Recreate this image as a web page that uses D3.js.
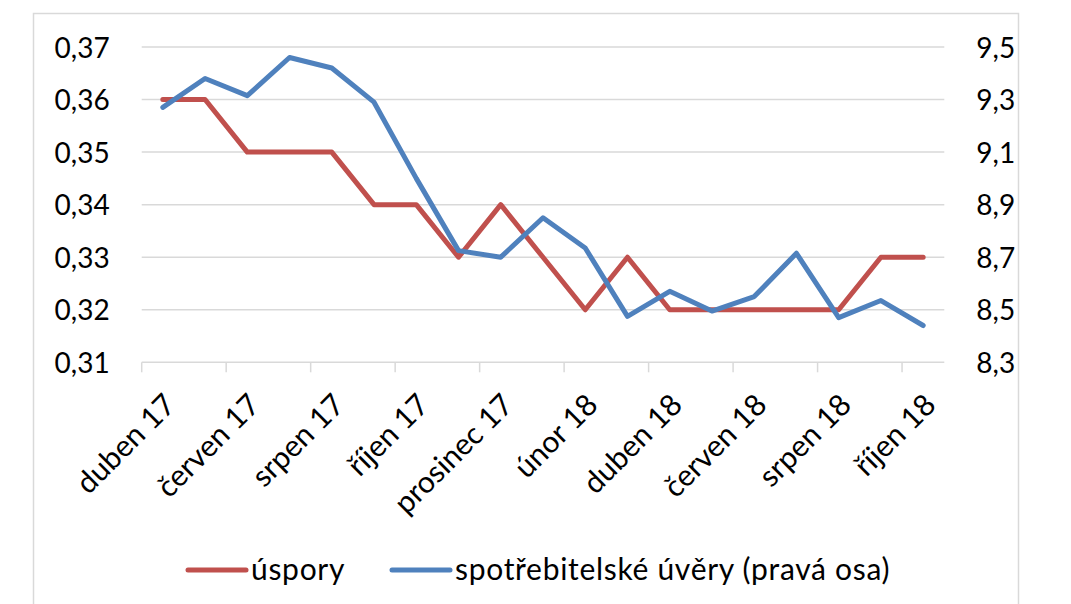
<!DOCTYPE html>
<html>
<head>
<meta charset="utf-8">
<script src="https://cdn.jsdelivr.net/npm/d3@7"></script>
<style>
  body { margin: 0; background: #fff; }
  text { font-family: Lato, "Open Sans", sans-serif; fill: #000; }
</style>
</head>
<body>
<svg id="chart"></svg>
<script>
// categories (monthly, every other one is labelled)
const months = [
  'duben 17', 'květen 17', 'červen 17', 'červenec 17', 'srpen 17', 'září 17',
  'říjen 17', 'listopad 17', 'prosinec 17', 'leden 18', 'únor 18', 'březen 18',
  'duben 18', 'květen 18', 'červen 18', 'červenec 18', 'srpen 18', 'září 18', 'říjen 18'
];
const uspory = [0.36, 0.36, 0.35, 0.35, 0.35, 0.34, 0.34, 0.33, 0.34, 0.33,
  0.32, 0.33, 0.32, 0.32, 0.32, 0.32, 0.32, 0.33, 0.33];
const uvery = [9.27, 9.38, 9.315, 9.46, 9.42, 9.29, 9.0, 8.725, 8.70, 8.85,
  8.735, 8.475, 8.57, 8.495, 8.55, 8.715, 8.47, 8.535, 8.44];
const leftTicks = [0.31, 0.32, 0.33, 0.34, 0.35, 0.36, 0.37];
const rightTicks = [8.3, 8.5, 8.7, 8.9, 9.1, 9.3, 9.5];
const seriesNames = ['úspory', 'spotřebitelské úvěry (pravá osa)'];

const width = 1071;
const height = 604;
const plot = { left: 141.7, right: 944.3, top: 47, bottom: 362.3 };
const red = '#C0504D';
const blue = '#4F81BD';
const grid = '#D9D9D9';

const cz = d3.formatLocale({ decimal: ',', thousands: ' ', grouping: [3], currency: ['', ' Kč'] });

const svg = d3.select('#chart')
  .attr('width', width)
  .attr('height', height);

// chart area border
svg.append('rect')
  .attr('x', 33.5).attr('y', 13.5)
  .attr('width', 985).attr('height', 640)
  .attr('fill', 'none')
  .attr('stroke', grid)
  .attr('stroke-width', 1.5);

const x = d3.scaleBand()
  .domain(months)
  .range([plot.left, plot.right])
  .padding(0);

const yLeft = d3.scaleLinear()
  .domain([0.31, 0.37])
  .range([plot.bottom, plot.top]);

const yRight = d3.scaleLinear()
  .domain([8.3, 9.5])
  .range([plot.bottom, plot.top]);

// gridlines
svg.append('g')
  .selectAll('line')
  .data(leftTicks)
  .enter().append('line')
  .attr('x1', plot.left).attr('x2', plot.right)
  .attr('y1', d => yLeft(d)).attr('y2', d => yLeft(d))
  .attr('stroke', grid)
  .attr('stroke-width', 1.5);

// category tick marks, every second boundary
const labelled = months.filter((m, i) => i % 2 === 0);
svg.append('g')
  .selectAll('line')
  .data(labelled)
  .enter().append('line')
  .attr('x1', d => x(d)).attr('x2', d => x(d))
  .attr('y1', plot.bottom).attr('y2', plot.bottom + 10)
  .attr('stroke', grid)
  .attr('stroke-width', 1.5);

// left axis
svg.append('g')
  .attr('transform', `translate(${plot.left},0)`)
  .call(d3.axisLeft(yLeft).tickValues(leftTicks).tickFormat(cz.format('.2f')).tickSize(0).tickPadding(32))
  .call(g => g.select('.domain').remove())
  .selectAll('text')
  .style('font-size', '28px')
  .attr('dy', '0.36em');

// right axis
svg.append('g')
  .attr('transform', `translate(${plot.right},0)`)
  .call(d3.axisRight(yRight).tickValues(rightTicks).tickFormat(cz.format('.1f')).tickSize(0).tickPadding(32))
  .call(g => g.select('.domain').remove())
  .selectAll('text')
  .style('font-size', '28px')
  .attr('dy', '0.36em');

// bottom axis labels, rotated
svg.append('g')
  .attr('transform', `translate(0,${plot.bottom})`)
  .call(d3.axisBottom(x).tickValues(labelled).tickSize(0))
  .call(g => g.select('.domain').remove())
  .selectAll('text')
  .style('font-size', '30px')
  .attr('text-anchor', 'end')
  .attr('y', 0)
  .attr('dy', '0.35em')
  .attr('transform', 'translate(7,37) rotate(-45)');

// lines
const cx = d => x(d) + x.bandwidth() / 2;

const redLine = d3.line()
  .x((d, i) => cx(months[i]))
  .y(d => yLeft(d));

const blueLine = d3.line()
  .x((d, i) => cx(months[i]))
  .y(d => yRight(d));

svg.append('path')
  .datum(uspory)
  .attr('d', redLine)
  .attr('fill', 'none')
  .attr('stroke', red)
  .attr('stroke-width', 5)
  .attr('stroke-linejoin', 'round')
  .attr('stroke-linecap', 'round');

svg.append('path')
  .datum(uvery)
  .attr('d', blueLine)
  .attr('fill', 'none')
  .attr('stroke', blue)
  .attr('stroke-width', 5)
  .attr('stroke-linejoin', 'round')
  .attr('stroke-linecap', 'round');

// legend
const legendY = 570;
const legendItems = [
  { name: seriesNames[0], color: red, x: 188 },
  { name: seriesNames[1], color: blue, x: 392 }
];

const legend = svg.append('g')
  .selectAll('g')
  .data(legendItems)
  .enter().append('g')
  .attr('transform', d => `translate(${d.x},${legendY})`);

legend.append('line')
  .attr('x1', 0).attr('x2', 58)
  .attr('y1', 0).attr('y2', 0)
  .attr('stroke', d => d.color)
  .attr('stroke-width', 5)
  .attr('stroke-linecap', 'round');

legend.append('text')
  .attr('x', 63)
  .attr('y', 0)
  .attr('dy', '0.33em')
  .style('font-size', '30px')
  .style('letter-spacing', '0.7px')
  .text(d => d.name);
</script>
</body>
</html>
